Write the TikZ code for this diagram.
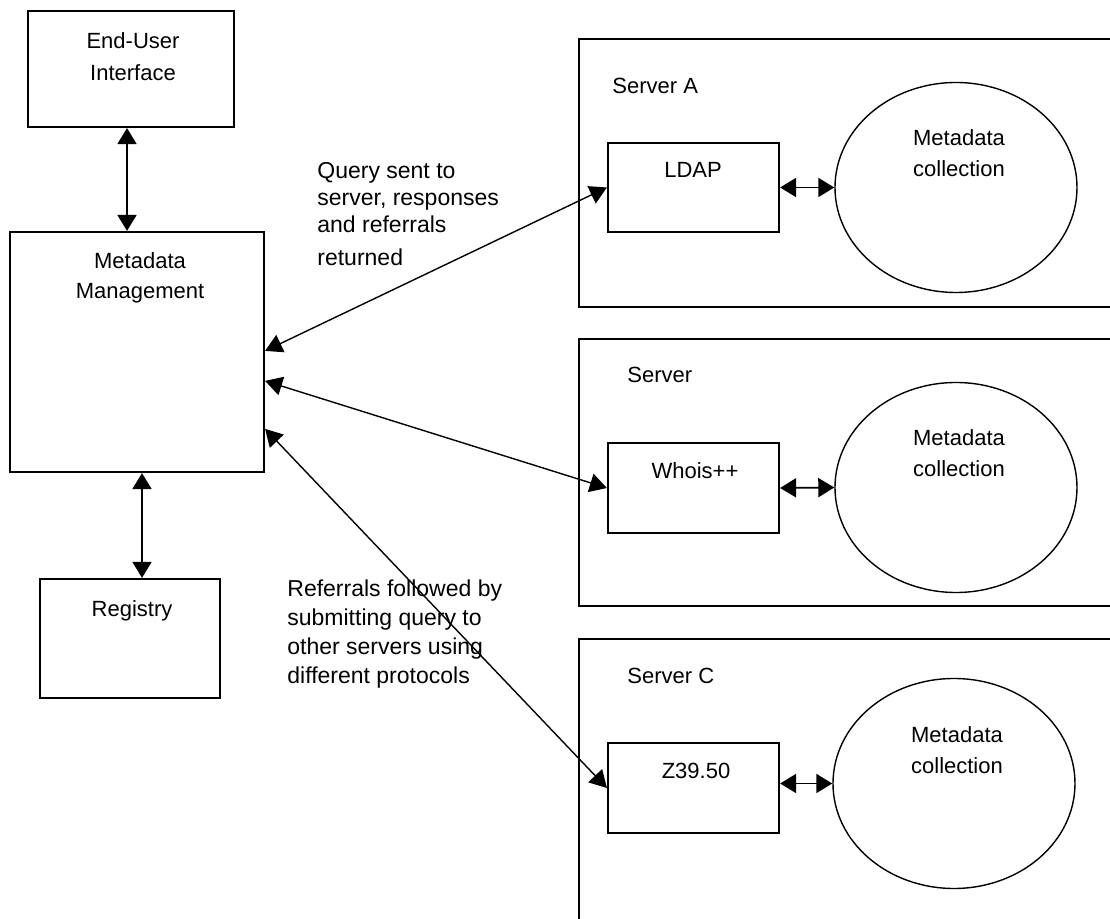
\documentclass[tikz,border=0pt]{standalone}
\usepackage{fontspec}
\setmainfont{Liberation Sans}
\usetikzlibrary{arrows.meta,shapes.geometric}
\tikzset{
    box/.style={draw, line width=1.1pt, inner sep=0pt},
    frame/.style={draw, line width=1.1pt},
    coll/.style={draw, ellipse, line width=0.7pt, minimum width=121pt, minimum height=105pt, inner sep=0pt},
    txt/.style={inner sep=0pt, align=center, font={\fontsize{11}{15.5}\selectfont}},
    note/.style={inner sep=0pt, anchor=north west, align=left},
    link/.style={{Triangle[length=8pt,width=9.5pt]}-{Triangle[length=8pt,width=9.5pt]}, line width=0.9pt},
    ref/.style={{Triangle[length=8.5pt,width=9.5pt]}-{Triangle[length=8.5pt,width=9.5pt]}, line width=0.7pt},
}
\begin{document}
\begin{tikzpicture}[x=0.5pt, y=-0.5pt]
                \useasboundingbox (0,0) rectangle (1110,919);
                \node[box, minimum width=103pt, minimum height=58pt] (eui) at (131,69) {};
                \node[txt, anchor=north, font={\fontsize{11}{16}\selectfont}] (euitxt) at (133,32) {End-User\\Interface};
                \node[box, minimum width=127pt, minimum height=120pt] (mm) at (137,352) {};
                \node[txt, anchor=north, font={\fontsize{11}{15}\selectfont}] (mmtxt) at (140,252) {Metadata\\Management};
                \node[box, minimum width=90pt, minimum height=59.5pt] (reg) at (130,638.5) {};
                \node[txt, anchor=north] (regtxt) at (132,600) {Registry};
                \draw[frame] (579,39) rectangle (1130,307);
                \draw[frame] (579,339) rectangle (1130,606);
                \draw[frame] (579,639) rectangle (1130,940);
                \node[txt, anchor=north west] (srva) at (612,78) {Server A};
                \node[txt, anchor=north west] (srvb) at (627,367) {Server};
                \node[txt, anchor=north west] (srvc) at (627,668) {Server C};
                \node[box, minimum width=85.5pt, minimum height=44.5pt] (ldap) at (693.5,187.5) {};
                \node[txt, anchor=north] (ldaptxt) at (693,162) {LDAP};
                \node[box, minimum width=85.5pt, minimum height=45pt] (whois) at (693.5,488) {};
                \node[txt, anchor=north] (whoistxt) at (695,462) {Whois++};
                \node[box, minimum width=85.5pt, minimum height=45pt] (zproto) at (693.5,788) {};
                \node[txt, anchor=north] (zprototxt) at (696,763) {Z39.50};
                \node[coll] (colla) at (956,187.5) {};
                \node[txt, anchor=north] (collatxt) at (959,129) {Metadata\\collection};
                \node[coll] (collb) at (956,487.5) {};
                \node[txt, anchor=north] (collbtxt) at (959,429) {Metadata\\collection};
                \node[coll] (collc) at (954,783.5) {};
                \node[txt, anchor=north] (collctxt) at (957,726) {Metadata\\collection};
                \draw[link] ([xshift=-2pt]eui.south) -- ([xshift=-2pt]eui.south |- mm.north);
                \draw[link] ([xshift=2.5pt]mm.south) -- ([xshift=2.5pt]mm.south |- reg.north);
                \draw[ref] ([yshift=-60pt]mm.north east) -- (ldap.west);
                \draw[ref] ([yshift=-75pt]mm.north east) -- (whois.west);
                \draw[ref] ([yshift=-99pt]mm.north east) -- (zproto.west);
                \draw[link] (ldap.east) -- (colla.west);
                \draw[link] (whois.east) -- (collb.west);
                \draw[link] (zproto.east |- collc.west) -- (collc.west);
                \node[note, font={\fontsize{11.5}{13.5}\selectfont}] (querytxt) at (317,162) {Query sent to\\server, responses\\and referrals\\[3pt]returned};
                \node[note, font={\fontsize{11.5}{14.5}\selectfont}] (referraltxt) at (287,579) {Referrals followed by\\submitting query to\\other servers using\\different protocols};
            \end{tikzpicture}
\end{document}
